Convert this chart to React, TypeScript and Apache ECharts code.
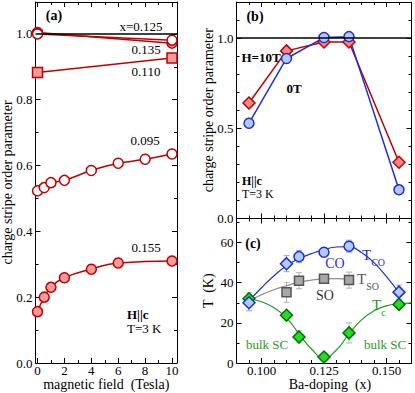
import React, { useEffect, useRef } from 'react';
import * as echarts from 'echarts';

const SERIF = '"Liberation Serif", "DejaVu Serif", "Times New Roman", serif';

// ---------- Panel (a): order parameter vs field ----------
const fieldEnds = [0, 10];
const op125 = [1.0, 0.981];
const op135 = [1.004, 0.972];
const op110 = [0.883, 0.927];
const field095 = [0, 0.5, 1, 2, 4, 6, 8, 10];
const op095 = [0.523, 0.533, 0.548, 0.555, 0.585, 0.607, 0.619, 0.635];
const field155 = [0, 0.5, 1, 2, 4, 6, 10];
const op155 = [0.156, 0.2, 0.23, 0.259, 0.285, 0.304, 0.31];

const fieldTicks = [0, 2, 4, 6, 8, 10];
const fieldMinor = [1, 3, 5, 7, 9];
const opTicksA = [0, 0.2, 0.4, 0.6, 0.8, 1.0];
const opMinorA = [0.1, 0.3, 0.5, 0.7, 0.9];

// ---------- Panel (b): order parameter vs doping ----------
const dopingB = [0.095, 0.11, 0.125, 0.135, 0.155];
const op10T = [0.64, 0.929, 0.978, 0.978, 0.312];
const op0T = [0.528, 0.887, 1.003, 1.008, 0.159];
const opTicksB = [0, 0.5, 1.0];
const opMinorB = [0.1, 0.2, 0.3, 0.4, 0.6, 0.7, 0.8, 0.9, 1.1];

// ---------- Panel (c): temperatures vs doping ----------
const dopingCO = [0.095, 0.11, 0.115, 0.125, 0.135, 0.155];
const tCO = [30, 49.5, 53, 55.2, 58.2, 35.3];
const tCOerr = [4, 4, 3, 1.5, 3, 3.5];
const coSymbols = ['diamond', 'diamond', 'circle', 'circle', 'circle', 'diamond'];
const dopingSO = [0.11, 0.115, 0.125, 0.135];
const tSO = [35.2, 41, 42, 41.3];
const tSOerr = [5, 4, 1, 4];
const dopingSC = [0.095, 0.11, 0.115, 0.125, 0.135, 0.155];
const tSC = [32, 23.8, 13, 3, 15, 29.2];
const tSCerr = [3, 1, 3, 1, 5, 1];

const fitXCO = [0.095, 0.1, 0.105, 0.11, 0.115, 0.12, 0.125, 0.13, 0.135, 0.14, 0.145, 0.15, 0.155];
const fitCO = [31, 37.5, 43.5, 48.5, 52, 54.5, 56.5, 57.8, 58, 55, 50, 43, 35];
const fitXSO = [0.095, 0.1, 0.105, 0.11, 0.115, 0.12, 0.125, 0.13, 0.135];
const fitSO = [31, 34, 36.5, 38.5, 40.3, 41.3, 41.9, 42, 41.8];
const fitXSC = [0.095, 0.1, 0.105, 0.11, 0.115, 0.12, 0.125, 0.13, 0.135, 0.14, 0.145, 0.15, 0.155, 0.16];
const fitSC = [32, 30.5, 27.5, 22.5, 14.5, 7, 2.5, 6.5, 14.5, 21.5, 26, 28.5, 29.5, 30];

const dopingTicks = [0.1, 0.125, 0.15];
const dopingMinor = [0.095, 0.105, 0.11, 0.115, 0.12, 0.13, 0.135, 0.14, 0.145, 0.155];
const tTicks = [0, 20, 40, 60];
const tMinor = [10, 30, 50, 70];

const zip = (xs: number[], ys: number[]) => xs.map((x, i) => [x, ys[i]]);

const RED = '#c00000';
const PINK = '#f39a9a';
const BLUE = '#1f2fd0';
const LBLUE = '#b2cbf4';
const GREEN = '#1f9a1f';
const LGREEN = '#22dd22';
const GRAY = '#8c8c8c';

const GRIDS = [
  { left: 35.5, top: 2, width: 141.5, height: 361 },
  { left: 236.5, top: 2, width: 175, height: 216.5 },
  { left: 236.5, top: 218.5, width: 175, height: 144.5 },
];

function axis(
  gridIndex: number,
  position: string,
  min: number,
  max: number,
  ticks: number[],
  len: number,
  line: boolean,
  labels?: number[],
  fmt?: (v: number) => string,
  extra: any = {},
  margin = 3
) {
  return {
    type: 'value',
    gridIndex,
    position,
    min,
    max,
    axisLine: { show: line, onZero: false, lineStyle: { color: '#000', width: 1 } },
    axisTick: { show: true, inside: true, length: len, customValues: ticks, lineStyle: { color: '#000', width: 1 } },
    axisLabel: labels
      ? { show: true, customValues: labels, formatter: fmt, fontFamily: SERIF, fontSize: 13, color: '#000', margin }
      : { show: false },
    splitLine: { show: false },
    nameMoveOverlap: false,
    ...extra,
  };
}

const nameStyle = { fontFamily: SERIF, fontSize: 14, color: '#000' };
const f1 = (v: number) => v.toFixed(1);
const f3 = (v: number) => v.toFixed(3);
const f0 = (v: number) => v.toFixed(0);

const AX = { min: -0.15, max: 10.37 };
const AY = { min: 0, max: 1.097 };
const BX = { min: 0.09, max: 0.16 };
const BY = { min: 0, max: 1.2 };
const CY = { min: 0, max: 72 };

const xAxes = [
  axis(0, 'bottom', AX.min, AX.max, fieldTicks, 5, true, fieldTicks, f0, {
    name: 'magnetic field  (Tesla)', nameLocation: 'middle', nameGap: 14, nameTextStyle: nameStyle,
  }, 1),
  axis(0, 'top', AX.min, AX.max, fieldTicks, 5, true),
  axis(1, 'bottom', BX.min, BX.max, dopingTicks, 5, true),
  axis(1, 'top', BX.min, BX.max, dopingTicks, 5, true),
  axis(2, 'bottom', BX.min, BX.max, dopingTicks, 5, true, dopingTicks, f3, {
    name: 'Ba-doping  (x)', nameLocation: 'middle', nameGap: 14, nameTextStyle: { ...nameStyle, padding: [0, 0, 0, 12] },
  }, 1),
  axis(2, 'top', BX.min, BX.max, dopingTicks, 5, true),
  axis(3, 'bottom', AX.min, AX.max, fieldMinor, 3, false),
  axis(3, 'top', AX.min, AX.max, fieldMinor, 3, false),
  axis(4, 'bottom', BX.min, BX.max, dopingMinor, 3, false),
  axis(4, 'top', BX.min, BX.max, dopingMinor, 3, false),
  axis(5, 'bottom', BX.min, BX.max, dopingMinor, 3, false),
  axis(5, 'top', BX.min, BX.max, dopingMinor, 3, false),
];

const yAxes = [
  axis(0, 'left', AY.min, AY.max, opTicksA, 5, true, opTicksA, f1, {
    name: 'charge stripe order parameter', nameLocation: 'middle', nameGap: 21, nameTextStyle: nameStyle,
  }),
  axis(0, 'right', AY.min, AY.max, opTicksA, 5, true),
  axis(1, 'left', BY.min, BY.max, opTicksB, 5, true, opTicksB, f1, {
    name: 'charge stripe order parameter', nameLocation: 'middle', nameGap: 21, nameTextStyle: nameStyle,
  }),
  axis(1, 'right', BY.min, BY.max, opTicksB, 5, true),
  axis(2, 'left', CY.min, CY.max, tTicks, 5, true, tTicks, f0, {
    name: 'T  (K)', nameLocation: 'middle', nameGap: 21, nameTextStyle: nameStyle,
  }),
  axis(2, 'right', CY.min, CY.max, tTicks, 5, true),
  axis(3, 'left', AY.min, AY.max, opMinorA, 3, false),
  axis(3, 'right', AY.min, AY.max, opMinorA, 3, false),
  axis(4, 'left', BY.min, BY.max, opMinorB, 3, false),
  axis(4, 'right', BY.min, BY.max, opMinorB, 3, false),
  axis(5, 'left', CY.min, CY.max, tMinor, 3, false),
  axis(5, 'right', CY.min, CY.max, tMinor, 3, false),
];

const refLine = {
  silent: true,
  symbol: ['none', 'none'],
  label: { show: false },
  lineStyle: { color: '#000', width: 1.5, type: 'solid' },
  data: [{ yAxis: 1 }],
};

function dataLine(name: string, xi: number, data: number[][], symbol: string, size: number, fill: string, stroke: string, smooth: any = false, extra: any = {}) {
  return {
    name,
    type: 'line',
    xAxisIndex: xi,
    yAxisIndex: xi,
    data,
    symbol,
    symbolSize: size,
    smooth,
    clip: false,
    lineStyle: { color: stroke, width: 1.5 },
    itemStyle: { color: fill, borderColor: stroke, borderWidth: 1.5 },
    ...extra,
  };
}

function errorBars(name: string, xs: number[], ys: number[], es: number[], color: string) {
  return {
    name,
    type: 'custom',
    xAxisIndex: 4,
    yAxisIndex: 4,
    z: 1,
    encode: { x: 0, y: [1, 2] },
    data: xs.map((x, i) => [x, ys[i] - es[i], ys[i] + es[i]]),
    renderItem: (params: any, api: any) => {
      const x = api.value(0);
      const p1 = api.coord([x, api.value(1)]);
      const p2 = api.coord([x, api.value(2)]);
      const w = 3;
      const st = { stroke: color, lineWidth: 1 };
      return {
        type: 'group',
        children: [
          { type: 'line', shape: { x1: p1[0], y1: p1[1], x2: p2[0], y2: p2[1] }, style: st },
          { type: 'line', shape: { x1: p1[0] - w, y1: p1[1], x2: p1[0] + w, y2: p1[1] }, style: st },
          { type: 'line', shape: { x1: p2[0] - w, y1: p2[1], x2: p2[0] + w, y2: p2[1] }, style: st },
        ],
      };
    },
  };
}

function fit(name: string, xs: number[], ys: number[], color: string) {
  return {
    name,
    type: 'line',
    xAxisIndex: 4,
    yAxisIndex: 4,
    data: zip(xs, ys),
    symbol: 'none',
    smooth: 0.5,
    z: 2,
    lineStyle: { color, width: 1.2 },
  };
}

function scatter(name: string, data: any[], symbol: string, size: number, fill: string, stroke: string) {
  return {
    name,
    type: 'scatter',
    xAxisIndex: 4,
    yAxisIndex: 4,
    data,
    symbol,
    symbolSize: size,
    z: 3,
    itemStyle: { color: fill, borderColor: stroke, borderWidth: 1.5, opacity: 1 },
  };
}

function txt(x: number, y: number, text: string, opts: any = {}) {
  return {
    type: 'text',
    x,
    y,
    z: 100,
    style: {
      text,
      fontFamily: SERIF,
      fontSize: 13,
      fill: '#000',
      align: 'center',
      verticalAlign: 'middle',
      ...opts,
    },
  };
}

function subText(x: number, y: number, main: string, sub: string, color: string) {
  return {
    type: 'text',
    x,
    y,
    z: 100,
    style: {
      text: `{t|${main}}{s|${sub}}`,
      align: 'left',
      verticalAlign: 'middle',
      rich: {
        t: { fontFamily: SERIF, fontSize: 15, fill: color, lineHeight: 20, verticalAlign: 'top' },
        s: { fontFamily: SERIF, fontSize: 10, fill: color, lineHeight: 20, verticalAlign: 'bottom' },
      },
    },
  };
}

const option: any = {
  animation: false,
  backgroundColor: '#fff',
  grid: [...GRIDS, ...GRIDS].map((g) => ({ ...g, show: false, containLabel: false, outerBoundsMode: 'none' })),
  xAxis: xAxes,
  yAxis: yAxes,
  series: [
    // panel (a)
    dataLine('x=0.110', 0, zip(fieldEnds, op110), 'rect', 10, PINK, RED),
    dataLine('x=0.135', 0, zip(fieldEnds, op135), 'circle', 10, PINK, RED),
    dataLine('x=0.125', 0, zip(fieldEnds, op125), 'circle', 10, '#fff', RED, false, { markLine: refLine }),
    dataLine('x=0.095', 0, zip(field095, op095), 'circle', 10, '#fff', RED, 0.3),
    dataLine('x=0.155', 0, zip(field155, op155), 'circle', 10, PINK, RED, 0.5),
    // panel (b)
    dataLine('H=10T', 2, zip(dopingB, op10T), 'diamond', 12, '#f08a8a', RED, false, { markLine: refLine }),
    dataLine('0T', 2, zip(dopingB, op0T), 'circle', 10, LBLUE, BLUE),
    // panel (c)
    errorBars('SC err', dopingSC, tSC, tSCerr, '#8fce8f'),
    errorBars('SO err', dopingSO, tSO, tSOerr, '#b0b0b0'),
    errorBars('CO err', dopingCO, tCO, tCOerr, '#8fa6e6'),
    fit('Tc fit', fitXSC, fitSC, GREEN),
    fit('TSO fit', fitXSO, fitSO, GRAY),
    fit('TCO fit', fitXCO, fitCO, BLUE),
    scatter('Tc', zip(dopingSC, tSC), 'diamond', 12, LGREEN, '#0b6a0b'),
    scatter('TSO', zip(dopingSO, tSO), 'rect', 9, '#a8a8a8', '#555'),
    scatter(
      'TCO',
      dopingCO.map((x, i) => ({ value: [x, tCO[i]], symbol: coSymbols[i], symbolSize: coSymbols[i] === 'diamond' ? 12 : 10 })),
      'circle',
      10,
      LBLUE,
      BLUE
    ),
  ],
  graphic: [
    // panel (a)
    txt(54, 15, '(a)', { fontWeight: 'bold', fontSize: 14 }),
    txt(141, 26, 'x=0.125'),
    txt(146, 49, '0.135'),
    txt(146, 71, '0.110'),
    txt(145, 140, '0.095'),
    txt(146, 247, '0.155'),
    txt(127, 314.5, 'H||c', { align: 'left', fontWeight: 'bold' }),
    txt(127, 328.5, 'T=3 K', { align: 'left' }),
    // panel (b)
    txt(255, 16, '(b)', { fontWeight: 'bold', fontSize: 14 }),
    txt(261, 57, 'H=10T', { fontWeight: 'bold' }),
    txt(294, 88, '0T', { fontWeight: 'bold' }),
    txt(242, 181, 'H||c', { align: 'left', fontWeight: 'bold', fontSize: 12 }),
    txt(242, 194, 'T=3 K', { align: 'left', fontSize: 12 }),
    // panel (c)
    txt(253, 243, '(c)', { fontWeight: 'bold', fontSize: 14 }),
    txt(335, 263, 'CO', { fill: BLUE, fontSize: 14 }),
    subText(362, 257, 'T', 'CO', BLUE),
    txt(325, 295, 'SO', { fill: '#333', fontSize: 14 }),
    subText(357, 281, 'T', 'SO', '#555'),
    subText(372, 307, 'T', 'c', GREEN),
    txt(246, 344, 'bulk SC', { align: 'left', fill: GREEN }),
    txt(364, 344, 'bulk SC', { align: 'left', fill: GREEN }),
  ],
};

export default function App() {
  const ref = useRef<HTMLDivElement>(null);
  useEffect(() => {
    const chart = echarts.init(ref.current!, null, { renderer: 'svg' });
    chart.setOption(option);
    return () => chart.dispose();
  }, []);
  return <div ref={ref} style={{ position: 'fixed', left: 0, top: 0, width: 415, height: 393 }} />;
}
